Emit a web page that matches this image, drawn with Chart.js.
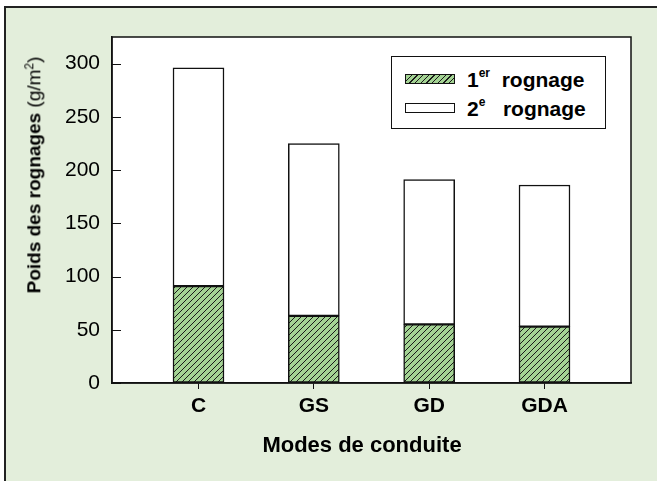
<!DOCTYPE html>
<html>
<head>
<meta charset="utf-8">
<script src="https://cdn.jsdelivr.net/npm/chart.js@4"></script>
<style>
    body { margin: 0; width: 657px; height: 481px; overflow: hidden; background: #fff; position: relative; font-family: "Liberation Sans", Arial, sans-serif; }
    #cadre { position: absolute; left: 4px; top: 6px; width: 700px; height: 500px; background: #e3eedb; border-top: 2px solid #222; border-left: 2px solid #222; }
    #zone { position: absolute; left: 0; top: 0; width: 657px; height: 481px; }
    #legende { position: absolute; left: 391px; top: 56px; width: 213px; height: 71px; background: #fff; border: 1.5px solid #111; }
    .ligne { position: absolute; left: 13px; font-weight: bold; font-size: 21px; color: #000; white-space: nowrap; }
    .ligne sup { font-size: 12px; position: relative; top: -2px; }
    .carre { display: inline-block; width: 48px; height: 8px; border: 1px solid #111; margin-right: 12px; vertical-align: 3px; }
    .hachure { background: repeating-linear-gradient(-45deg, #a4d394 0 3px, #1a1a1a 3px 4px); }
    #titreY { position: absolute; left: 34px; top: 175px; transform: translate(-50%, -50%) rotate(-90deg); white-space: nowrap; font-size: 19px; color: #000; }
    #titreY sup { font-size: 12px; }
    #titreX { position: absolute; left: 362px; top: 445px; transform: translate(-50%, -50%); white-space: nowrap; font-size: 22px; font-weight: bold; color: #000; }
</style>
</head>
<body>
<div id="cadre"></div>
<canvas id="zone" width="657" height="481"></canvas>
<div id="legende">
    <div class="ligne" style="top: 11px;"><span class="carre hachure"></span>1<sup>er</sup>&nbsp; rognage</div>
    <div class="ligne" style="top: 40px;"><span class="carre" style="background:#fff"></span>2<sup>e</sup>&nbsp;&nbsp; rognage</div>
</div>
<div id="titreY"><b>Poids des rognages</b> (g/m<sup>2</sup>)</div>
<div id="titreX">Modes de conduite</div>
<script>
// donnees
const modes     = ['C', 'GS', 'GD', 'GDA'];
const rognage1  = [91, 63, 55, 53];
const rognage2  = [205, 162, 136, 133];   // partie au-dessus du 1er rognage
const ticksY    = [0, 50, 100, 150, 200, 250, 300];

function motifHachure() {
    const c = document.createElement('canvas');
    c.width = 6; c.height = 6;
    const ctx = c.getContext('2d');
    ctx.fillStyle = '#a4d394';
    ctx.fillRect(0, 0, 6, 6);
    ctx.strokeStyle = '#1a1a1a';
    ctx.lineWidth = 1;
    ctx.beginPath();
    ctx.moveTo(0, 6); ctx.lineTo(6, 0);
    ctx.moveTo(-1, 1); ctx.lineTo(1, -1);
    ctx.moveTo(5, 7); ctx.lineTo(7, 5);
    ctx.stroke();
    return c.getContext('2d').createPattern(c, 'repeat');
}

const points1 = modes.map((m, i) => ({ x: i + 1, y: rognage1[i] }));
const points2 = modes.map((m, i) => ({ x: i + 1, y: rognage2[i] }));

// fond blanc + cadre du graphe + graduations vers l'interieur
const cadrePlugin = {
    id: 'cadre',
    beforeDraw(chart) {
        const a = chart.chartArea, ctx = chart.ctx;
        ctx.save();
        ctx.fillStyle = '#fff';
        ctx.fillRect(a.left, a.top, a.right - a.left, a.bottom - a.top);
        ctx.restore();
    },
    afterDraw(chart) {
        const a = chart.chartArea, ctx = chart.ctx;
        const y = chart.scales.y;
        ctx.save();
        ctx.strokeStyle = '#111';
        ctx.lineWidth = 1.5;
        ctx.strokeRect(a.left, a.top, a.right - a.left, a.bottom - a.top);
        ctx.lineWidth = 1;
        ctx.beginPath();
        ticksY.forEach(v => {
            const py = Math.round(y.getPixelForValue(v)) + 0.5;
            ctx.moveTo(a.left, py);
            ctx.lineTo(a.left + 9, py);
        });
        ctx.stroke();
        ctx.restore();
    }
};

new Chart(document.getElementById('zone'), {
    type: 'bar',
    data: {
        datasets: [
            {
                label: '1er rognage',
                data: points1,
                backgroundColor: motifHachure(),
                borderColor: '#111',
                borderWidth: 1.5,
                borderSkipped: false,
                barThickness: 51,
            },
            {
                label: '2e rognage',
                data: points2,
                backgroundColor: '#fff',
                borderColor: '#111',
                borderWidth: 1.5,
                borderSkipped: false,
                barThickness: 51,
            }
        ]
    },
    options: {
        responsive: false,
        animation: false,
        layout: { padding: { top: 37, right: 26, left: 0, bottom: 0 } },
        plugins: { legend: { display: false }, tooltip: { enabled: false } },
        scales: {
            x: {
                type: 'linear',
                stacked: true,
                offset: false,
                min: 0.25,
                max: 4.75,
                afterFit(s) { s.height = 98; },
                ticks: {
                    stepSize: 1,
                    includeBounds: false,
                    autoSkip: false,
                    maxRotation: 0,
                    padding: 5,
                    color: '#000',
                    font: { family: 'Liberation Sans', size: 21, weight: 'bold' },
                    callback: v => modes[v - 1] || ''
                },
                grid: { drawOnChartArea: false, offset: false, tickLength: 6, color: '#111' },
                border: { color: '#111', width: 1.5 }
            },
            y: {
                stacked: true,
                min: 0,
                max: 325,
                afterFit(s) { s.width = 112; },
                ticks: {
                    stepSize: 50,
                    includeBounds: false,
                    padding: 12,
                    color: '#000',
                    font: { family: 'Liberation Sans', size: 21 }
                },
                grid: { drawOnChartArea: false, drawTicks: false },
                border: { color: '#111', width: 1.5 }
            }
        }
    },
    plugins: [cadrePlugin]
});
</script>
</body>
</html>
